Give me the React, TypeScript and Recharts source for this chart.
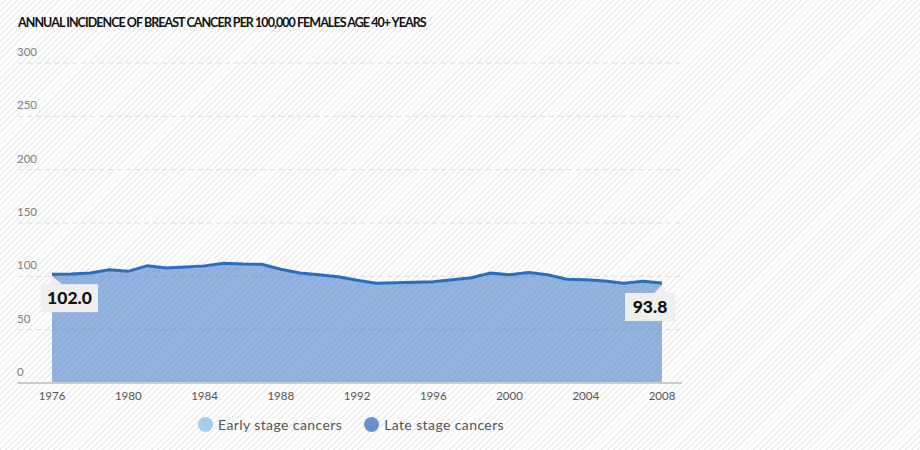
import React from "react";
import { AreaChart, Area, XAxis, YAxis, CartesianGrid } from "recharts";

const years = [1976,1977,1978,1979,1980,1981,1982,1983,1984,1985,1986,1987,1988,1989,1990,1991,1992,1993,1994,1995,1996,1997,1998,1999,2000,2001,2002,2003,2004,2005,2006,2007,2008];
const lateStage = [102.0,102.2,103.2,106.2,104.7,110.0,107.8,108.8,109.8,112.3,111.6,111.3,106.6,103.1,101.5,99.7,96.4,93.5,94.0,94.4,95.0,96.7,98.6,103.0,101.4,103.5,101.5,97.2,96.8,95.7,93.5,95.4,93.8];
const xTicks = [1976,1980,1984,1988,1992,1996,2000,2004,2008];
const yTicks = [0,50,100,150,200,250,300];
const titleText = "ANNUAL INCIDENCE OF BREAST CANCER PER 100,000 FEMALES AGE 40+ YEARS";
const legendItems = [
  { name: "Early stage cancers", color: "#a3cdef" },
  { name: "Late stage cancers", color: "#6693cf" },
];

const data = years.map((y, i) => ({ year: y, late: lateStage[i] }));

const YTick = (props: any) => {
  const { y, payload } = props;
  return (
    <text x={17} y={y - 7} fill="#808080" fontSize={11.5} fontFamily="Lato, sans-serif" textAnchor="start">
      {payload.value}
    </text>
  );
};

const ValueLabel = (props: any) => {
  const { x, y, index, value } = props;
  const last = lateStage.length - 1;
  if (index !== 0 && index !== last) return null;
  const text = Number(value).toFixed(1);
  const w = index === 0 ? 57 : 50;
  const left = index === 0 ? x - 11 : x - 37;
  const top = y + 10;
  const h = 28;
  const tri = index === 0
    ? `${x},${y + 2} ${x - 2},${top} ${x + 10},${top}`
    : `${x},${y + 2} ${x - 8},${top} ${x + 4},${top}`;
  return (
    <g>
      <polygon points={tri} fill="#efefef" />
      <rect x={left} y={top} width={w} height={h} fill="#efefef" />
      <text x={left + w / 2} y={top + h / 2 + 6} textAnchor="middle" fontSize={17.5} fontWeight={900} fill="#111" fontFamily="Lato, sans-serif">
        {text}
      </text>
    </g>
  );
};

export default function App() {
  return (
    <div
      style={{
        position: "absolute",
        left: 0,
        top: 0,
        width: 920,
        height: 450,
        background: "repeating-linear-gradient(135deg, #ffffff 0px, #ffffff 3px, #ededed 3px, #ededed 4.3px)",
        fontFamily: "Lato, sans-serif",
      }}
    >
      <div style={{ position: "absolute", left: 18, top: 15, fontSize: 12.5, fontWeight: 700, color: "#111", letterSpacing: -0.95, whiteSpace: "nowrap" }}>
        {titleText}
      </div>
      <AreaChart width={920} height={450} data={data} margin={{ top: 63, right: 238, bottom: 36, left: 17 }}>
        <CartesianGrid horizontal vertical={false} stroke="#dcdcdc" strokeDasharray="5 4" />
        <XAxis
          dataKey="year"
          type="number"
          domain={[1976, 2008]}
          ticks={xTicks}
          interval={0}
          padding={{ left: 34, right: 20 }}
          axisLine={{ stroke: "#cccccc", strokeWidth: 2 }}
          tickLine={false}
          tickSize={7}
          height={31}
          tick={{ fill: "#555", fontSize: 11.5, fontFamily: "Lato, sans-serif" }}
        />
        <YAxis domain={[0, 300]} ticks={yTicks} interval={0} width={1} axisLine={false} tickLine={false} tick={<YTick />} />
        <Area
          dataKey="late"
          type="linear"
          stroke="#2b6dbd"
          strokeWidth={3}
          fill="#3f78c9"
          fillOpacity={0.56}
          isAnimationActive={false}
          label={<ValueLabel />}
        />
      </AreaChart>
      <div style={{ position: "absolute", left: 198, top: 416, display: "flex", alignItems: "center", fontSize: 14, color: "#555", letterSpacing: 0.4 }}>
        {legendItems.map((it) => (
          <div key={it.name} style={{ display: "flex", alignItems: "center", marginRight: 22 }}>
            <span style={{ display: "inline-block", width: 15, height: 15, borderRadius: "50%", background: it.color, marginRight: 5 }} />
            <span>{it.name}</span>
          </div>
        ))}
      </div>
    </div>
  );
}
